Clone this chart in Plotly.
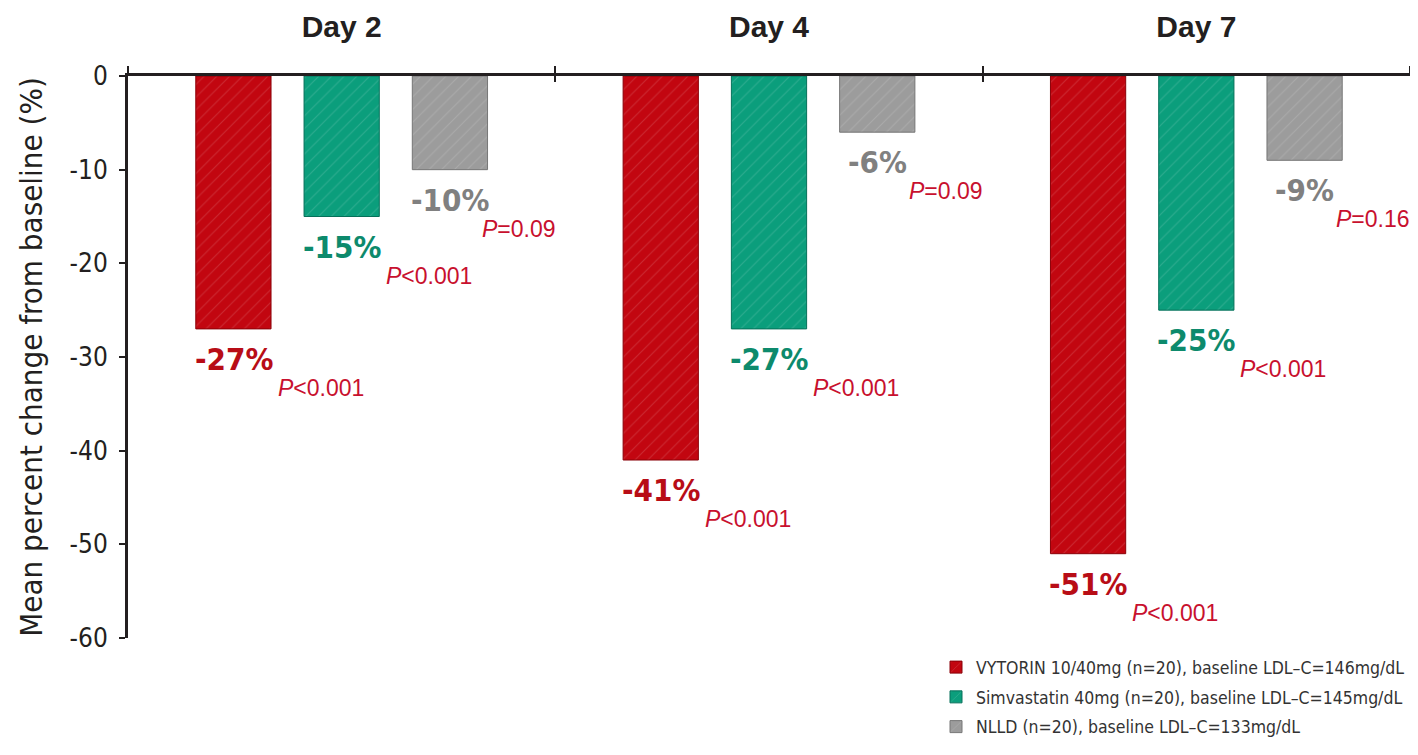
import plotly.graph_objects as go

# ── data ──
days = ["Day 2", "Day 4", "Day 7"]
vytorin = [-27, -41, -51]
simva = [-15, -27, -25]
nlld = [-10, -6, -9]
p_vytorin = ["<0.001", "<0.001", "<0.001"]
p_simva = ["<0.001", "<0.001", "<0.001"]
p_nlld = ["=0.09", "=0.09", "=0.16"]
names = [
    "VYTORIN 10/40mg (n=20), baseline LDL–C=146mg/dL",
    "Simvastatin 40mg (n=20), baseline LDL–C=145mg/dL",
    "NLLD (n=20), baseline LDL–C=133mg/dL",
]
y_ticks = [0, -10, -20, -30, -40, -50, -60]
y_ticktext = ["0", "-10", "-20", "-30", "-40", "-50", "-60"]

# ── style ──
NARROW = "Liberation Sans Narrow, Arial Narrow, DejaVu Sans Condensed, sans-serif"
SANS = "Liberation Sans, Arial, sans-serif"
INK = "#231f20"
P_RED = "#c8102e"

series = [
    dict(y=vytorin, p=p_vytorin, fill="#c20610", edge="#8a0008", text="#b80d16", p_dx=42),
    dict(y=simva, p=p_simva, fill="#0b9e7c", edge="#06705a", text="#0d8a6c", p_dx=42),
    dict(y=nlld, p=p_nlld, fill="#9c9c9c", edge="#767676", text="#808080", p_dx=30),
]

fig = go.Figure()
for k, (name, s) in enumerate(zip(names, series)):
    fig.add_trace(go.Bar(
        x=days, y=s["y"], name=name, legendgroup=f"g{k}",
        marker=dict(
            color=s["fill"],
            line=dict(color=s["edge"], width=1),
            pattern=dict(shape="/", fgcolor="rgba(255,255,255,0.28)",
                         size=9, solidity=0.12),
        ),
        hoverinfo="skip",
    ))

# invisible trace so the overlay axis knows the categories (lower half of the ticks)
fig.add_trace(go.Scatter(
    x=days, y=vytorin, xaxis="x2", mode="markers",
    marker=dict(opacity=0), showlegend=False, hoverinfo="skip",
))

# value and P labels
SLOT = 108
for i, s in enumerate(series):
    dx = (i - 1) * SLOT
    for d, v, p in zip(days, s["y"], s["p"]):
        fig.add_annotation(
            x=d, y=v, xshift=dx, yshift=-30, showarrow=False,
            text=f"<b>{v}%</b>",
            font=dict(family=NARROW, size=31, color=s["text"]),
        )
        fig.add_annotation(
            x=d, y=v, xshift=dx + s["p_dx"], yshift=-59, showarrow=False,
            xanchor="left",
            text=f"<i>P</i>{p.replace('<', '&lt;')}",
            font=dict(family=SANS, size=23, color=P_RED),
        )

# page has an 8px body margin, so the figure is offset by 8px
fig.update_layout(
    width=1402, height=739,
    paper_bgcolor="white", plot_bgcolor="white",
    margin=dict(l=120, r=0, t=68, b=109, autoexpand=False),
    barmode="group", bargap=0.24, bargroupgap=0.305,
    showlegend=True,
    legend=dict(
        x=1.0, xanchor="right", y=-0.02, yanchor="top",
        font=dict(family=NARROW, size=17.5, color="#333333"),
        bgcolor="rgba(0,0,0,0)", tracegroupgap=4,
    ),
    font=dict(family=NARROW, color=INK),
    xaxis=dict(
        range=[-0.5, 2.5], side="top", showline=True, linecolor=INK, linewidth=3,
        ticks="outside", ticklen=7, tickwidth=2, tickcolor=INK,
        tickson="boundaries", showgrid=False, ticklabelstandoff=24,
        tickfont=dict(family=SANS, size=30, color=INK, weight="bold"),
    ),
    xaxis2=dict(
        overlaying="x", matches="x", side="top", anchor="y",
        showline=False, showgrid=False, showticklabels=False,
        ticks="inside", ticklen=6, tickwidth=2, tickcolor=INK,
        tickson="boundaries",
    ),
    yaxis=dict(
        range=[-60, 0], showline=True, linecolor=INK, linewidth=3,
        ticks="outside", ticklen=6, tickwidth=2, tickcolor=INK,
        tickvals=y_ticks, ticktext=y_ticktext, ticklabelstandoff=6,
        showgrid=False, zeroline=False,
        tickfont=dict(family=NARROW, size=26, color=INK),
        title=dict(text="Mean percent change from baseline (%)",
                   font=dict(family=NARROW, size=31, color=INK), standoff=18),
    ),
)

fig.write_html("out.html")
